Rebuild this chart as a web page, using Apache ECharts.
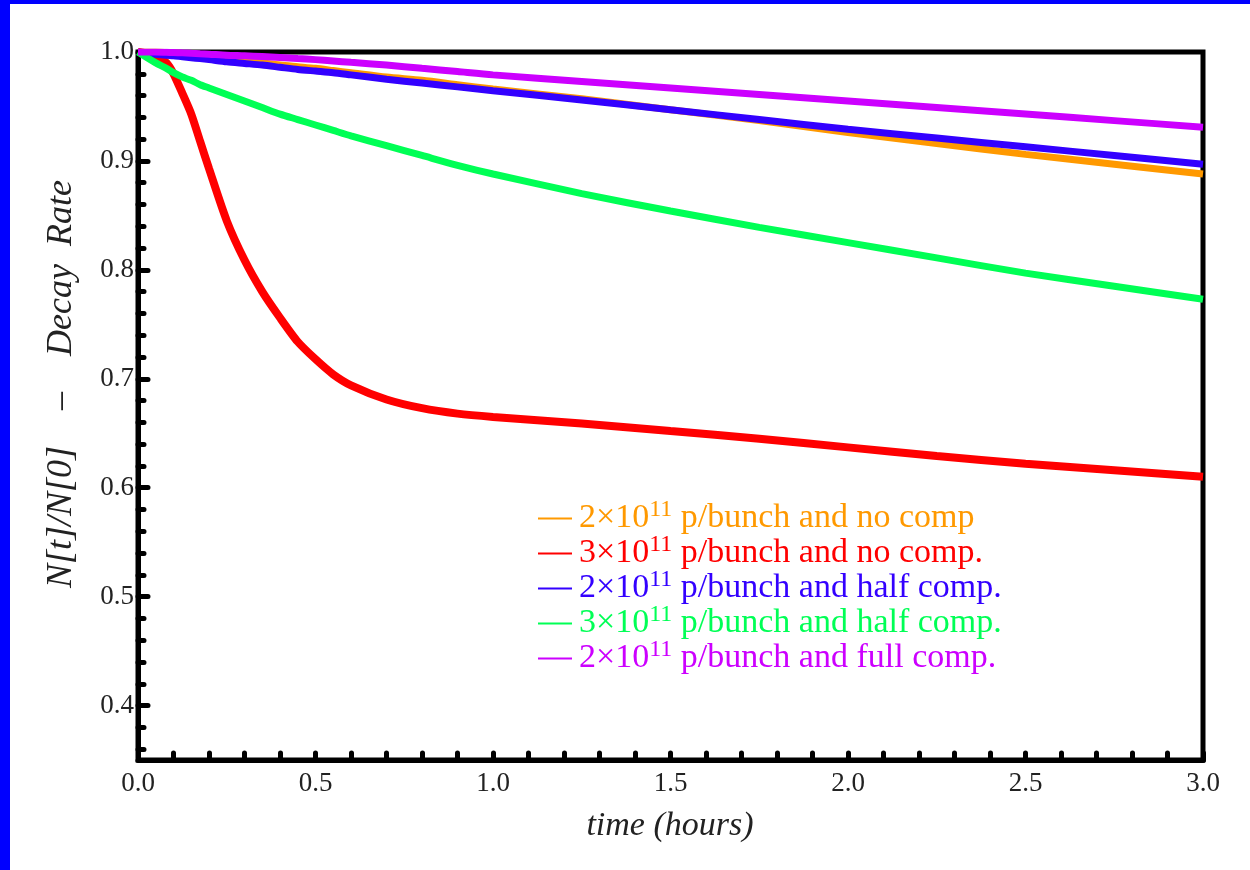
<!DOCTYPE html>
<html>
<head>
<meta charset="utf-8">
<script src="https://cdn.jsdelivr.net/npm/echarts@6/dist/echarts.min.js"></script>
<style>
html,body{margin:0;padding:0;background:#fff;}
#chart{width:1250px;height:870px;}
</style>
</head>
<body>
<div id="chart"></div>
<script>
// time in hours
const time = [0, 0.05, 0.08, 0.1, 0.125, 0.15, 0.175, 0.2, 0.25, 0.3, 0.35, 0.4, 0.45, 0.5, 0.55, 0.6, 0.7, 0.8, 0.9, 1.0, 1.25, 1.5, 1.75, 2.0, 2.25, 2.5, 2.75, 3.0];

const orangeNoComp2 = [1.0, 1.0, 0.9995, 0.999, 0.9985, 0.998, 0.997, 0.996, 0.994, 0.992, 0.990, 0.988, 0.9865, 0.985, 0.983, 0.981, 0.977, 0.974, 0.970, 0.966, 0.957, 0.947, 0.937, 0.926, 0.916, 0.906, 0.897, 0.888];
const redNoComp3 = [1.0, 0.997, 0.990, 0.980, 0.962, 0.943, 0.918, 0.893, 0.845, 0.809, 0.780, 0.756, 0.734, 0.718, 0.704, 0.694, 0.681, 0.673, 0.668, 0.665, 0.659, 0.652, 0.645, 0.637, 0.629, 0.622, 0.616, 0.610];
const blueHalf2 = [1.0, 0.998, 0.997, 0.9965, 0.9956, 0.9948, 0.9939, 0.993, 0.991, 0.9895, 0.988, 0.986, 0.984, 0.9825, 0.981, 0.979, 0.975, 0.9715, 0.968, 0.9645, 0.956, 0.947, 0.938, 0.929, 0.921, 0.913, 0.905, 0.897];
const greenHalf3 = [1.0, 0.990, 0.985, 0.981, 0.977, 0.974, 0.970, 0.967, 0.961, 0.955, 0.949, 0.943, 0.938, 0.933, 0.928, 0.923, 0.914, 0.905, 0.896, 0.888, 0.870, 0.854, 0.839, 0.825, 0.811, 0.797, 0.785, 0.773];
const purpleFull2 = [1.0, 1.0, 0.9997, 0.9995, 0.9992, 0.9988, 0.9984, 0.998, 0.997, 0.9965, 0.9958, 0.995, 0.994, 0.993, 0.9918, 0.9905, 0.988, 0.985, 0.982, 0.979, 0.973, 0.967, 0.961, 0.955, 0.949, 0.943, 0.937, 0.931];

const seriesNames = [
  '2×10^11 p/bunch and no comp',
  '3×10^11 p/bunch and no comp.',
  '2×10^11 p/bunch and half comp.',
  '3×10^11 p/bunch and half comp.',
  '2×10^11 p/bunch and full comp.'
];
const seriesValues = [orangeNoComp2, redNoComp3, blueHalf2, greenHalf3, purpleFull2];
const seriesColors = ['#FF9900', '#FF0000', '#3300FF', '#00FF55', '#CC00FF'];
const seriesWidths = [7, 8, 7, 7, 7];

const xTicks = [0, 0.5, 1.0, 1.5, 2.0, 2.5, 3.0];
const yMajorTicks = [0.4, 0.5, 0.6, 0.7, 0.8, 0.9, 1.0];
const yMinorTicks = [0.36, 0.38, 0.42, 0.44, 0.46, 0.48, 0.52, 0.54, 0.56, 0.58, 0.62, 0.64, 0.66, 0.68, 0.72, 0.74, 0.76, 0.78, 0.82, 0.84, 0.86, 0.88, 0.92, 0.94, 0.96, 0.98];

const FONT = "'Liberation Serif', 'DejaVu Serif', serif";
const chart = echarts.init(document.getElementById('chart'), null, {renderer: 'canvas'});

const series = seriesNames.map((n, i) => ({
  name: n,
  type: 'line',
  showSymbol: false,
  symbol: 'none',
  smooth: 0.25,
  xAxisIndex: 0,
  yAxisIndex: 0,
  color: seriesColors[i],
  lineStyle: {width: seriesWidths[i], color: seriesColors[i]},
  data: time.map((t, k) => [t, seriesValues[i][k]]),
  z: 3 + i
}));

const tickLine = {color: '#000', width: 5, cap: 'round'};

chart.setOption({
  animation: false,
  backgroundColor: '#fff',
  grid: {left: 138, right: 47, top: 52, bottom: 110, show: true, borderColor: '#000', borderWidth: 5, backgroundColor: 'transparent'},
  xAxis: {
    type: 'value', min: 0, max: 3, interval: 0.5,
    axisLine: {show: true, lineStyle: {color: '#000', width: 5}},
    axisTick: {show: true, inside: true, length: 7, customValues: xTicks, lineStyle: tickLine},
    minorTick: {show: true, splitNumber: 5, length: 7, lineStyle: tickLine},
    splitLine: {show: false},
    axisLabel: {fontFamily: FONT, fontSize: 27, color: '#222', margin: 10, customValues: xTicks, formatter: v => v.toFixed(1)}
  },
  yAxis: [{
    type: 'value', min: 0.35, max: 1.0,
    axisLine: {show: true, lineStyle: {color: '#000', width: 5}},
    axisTick: {show: true, inside: true, length: 10, customValues: yMajorTicks, lineStyle: tickLine},
    splitLine: {show: false},
    axisLabel: {fontFamily: FONT, fontSize: 27, color: '#222', margin: 4, customValues: yMajorTicks, formatter: v => v.toFixed(1)}
  }, {
    type: 'value', min: 0.35, max: 1.0, position: 'left',
    axisLine: {show: false},
    axisTick: {show: true, inside: true, length: 6, customValues: yMinorTicks, lineStyle: tickLine},
    splitLine: {show: false},
    axisLabel: {show: false}
  }],
  legend: {
    orient: 'vertical', left: 533, top: 493,
    icon: 'rect', itemWidth: 34, itemHeight: 2, itemGap: -6,
    data: seriesNames.map((n, i) => ({name: n, textStyle: {color: seriesColors[i]}})),
    formatter: name => {
      const parts = name.split('^11');
      return '{m|' + parts[0] + '}{s|11}{m|' + parts[1] + '}';
    },
    textStyle: {
      fontFamily: FONT, fontSize: 34, padding: [0, 0, 0, 2],
      rich: {
        m: {fontFamily: FONT, fontSize: 34, lineHeight: 35},
        s: {fontFamily: FONT, fontSize: 24, lineHeight: 18, padding: [0, 0, 17, 0]}
      }
    }
  },
  graphic: [
    {type: 'text', x: 62, y: 384, rotation: Math.PI / 2, z: 10,
     style: {text: 'N[t]/N[0]    –    Decay  Rate', font: 'italic 36px ' + FONT, fill: '#222', textAlign: 'center', textVerticalAlign: 'middle'}},
    {type: 'text', x: 670, y: 826, z: 10,
     style: {text: 'time (hours)', font: 'italic 34px ' + FONT, fill: '#222', textAlign: 'center', textVerticalAlign: 'middle'}},
    {type: 'rect', z: 100, shape: {x: 0, y: 0, width: 10, height: 870}, style: {fill: '#0000FF'}},
    {type: 'rect', z: 100, shape: {x: 0, y: 0, width: 1250, height: 4}, style: {fill: '#0000FF'}}
  ],
  series: series
});
</script>
</body>
</html>
